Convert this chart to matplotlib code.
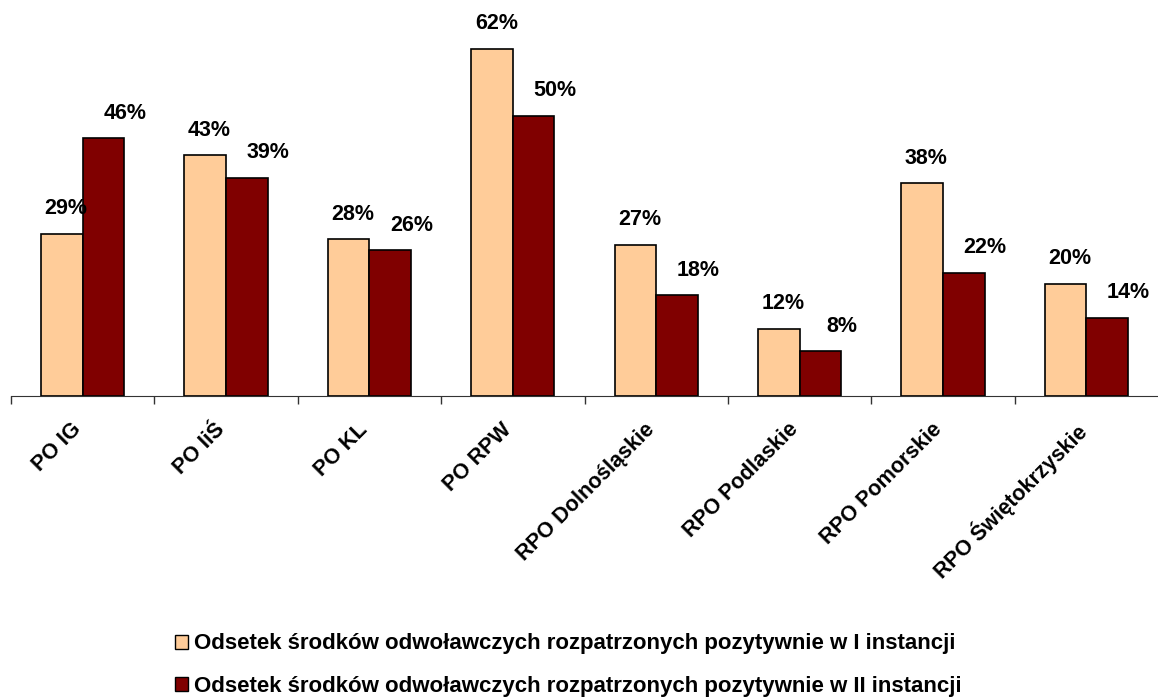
import matplotlib.pyplot as plt
import numpy as np
from matplotlib.patches import Patch
from matplotlib.transforms import ScaledTranslation

plt.rcParams['font.family'] = ['Liberation Sans', 'DejaVu Sans']

programy = ['PO IG', 'PO IiŚ', 'PO KL', 'PO RPW', 'RPO Dolnośląskie',
            'RPO Podlaskie', 'RPO Pomorskie', 'RPO Świętokrzyskie']
instancja_1 = [29, 43, 28, 62, 27, 12, 38, 20]
instancja_2 = [46, 39, 26, 50, 18, 8, 22, 14]
seria_nazwy = ['Odsetek środków odwoławczych rozpatrzonych pozytywnie w I instancji',
               'Odsetek środków odwoławczych rozpatrzonych pozytywnie w II instancji']
kolory = ['#FFCC99', '#800000']

fig = plt.figure(figsize=(11.58, 7), dpi=100)
ax = fig.add_axes([11 / 1158, 1 - 396 / 700, 1 - 11 / 1158, 392 / 700])

x = np.arange(len(programy))
w = 0.29
s1 = ax.bar(x - w / 2, instancja_1, w, color=kolory[0], edgecolor='black', linewidth=1.2)
s2 = ax.bar(x + w / 2, instancja_2, w, color=kolory[1], edgecolor='black', linewidth=1.2)

# etykiety wartości nad słupkami
for bars, vals, dx in [(s1, instancja_1, 0.03), (s2, instancja_2, 0.15)]:
    for rect, v in zip(bars, vals):
        ax.annotate(f'{v}%', (rect.get_x() + rect.get_width() / 2 + dx, v),
                    xytext=(0, 18), textcoords='offset points', ha='center', va='center',
                    fontsize=15.5, fontweight='bold', annotation_clip=False)

ax.set_xlim(-0.5, len(programy) - 0.5)
ax.set_ylim(0, 70)
for side in ['top', 'right', 'left']:
    ax.spines[side].set_visible(False)
ax.spines['bottom'].set_color('#333333')
ax.set_yticks([])

ax.set_xticks(x)
ax.set_xticklabels(programy, rotation=45, ha='right', va='top',
                   rotation_mode='anchor', fontsize=15.5, fontweight='bold')
ax.tick_params(axis='x', which='major', length=0, pad=16.5)
shift = ScaledTranslation(-12 / 100, 0, fig.dpi_scale_trans)
for lab in ax.get_xticklabels():
    lab.set_transform(lab.get_transform() + shift)
ax.set_xticks(np.arange(len(programy)) - 0.5, minor=True)
ax.tick_params(axis='x', which='minor', length=6, width=1, color='#333333')

handles = [Patch(facecolor=c, edgecolor='black', linewidth=1) for c in kolory]
fig.legend(handles, seria_nazwy, loc='center left', bbox_to_anchor=(175 / 1158, 1 - 665 / 700),
           ncol=1, frameon=False, prop={'weight': 'bold', 'size': 16},
           borderpad=0, borderaxespad=0,
           handlelength=0.6, handleheight=0.6, handletextpad=0.25, labelspacing=0.95)

fig.savefig('out.png', dpi=100)
